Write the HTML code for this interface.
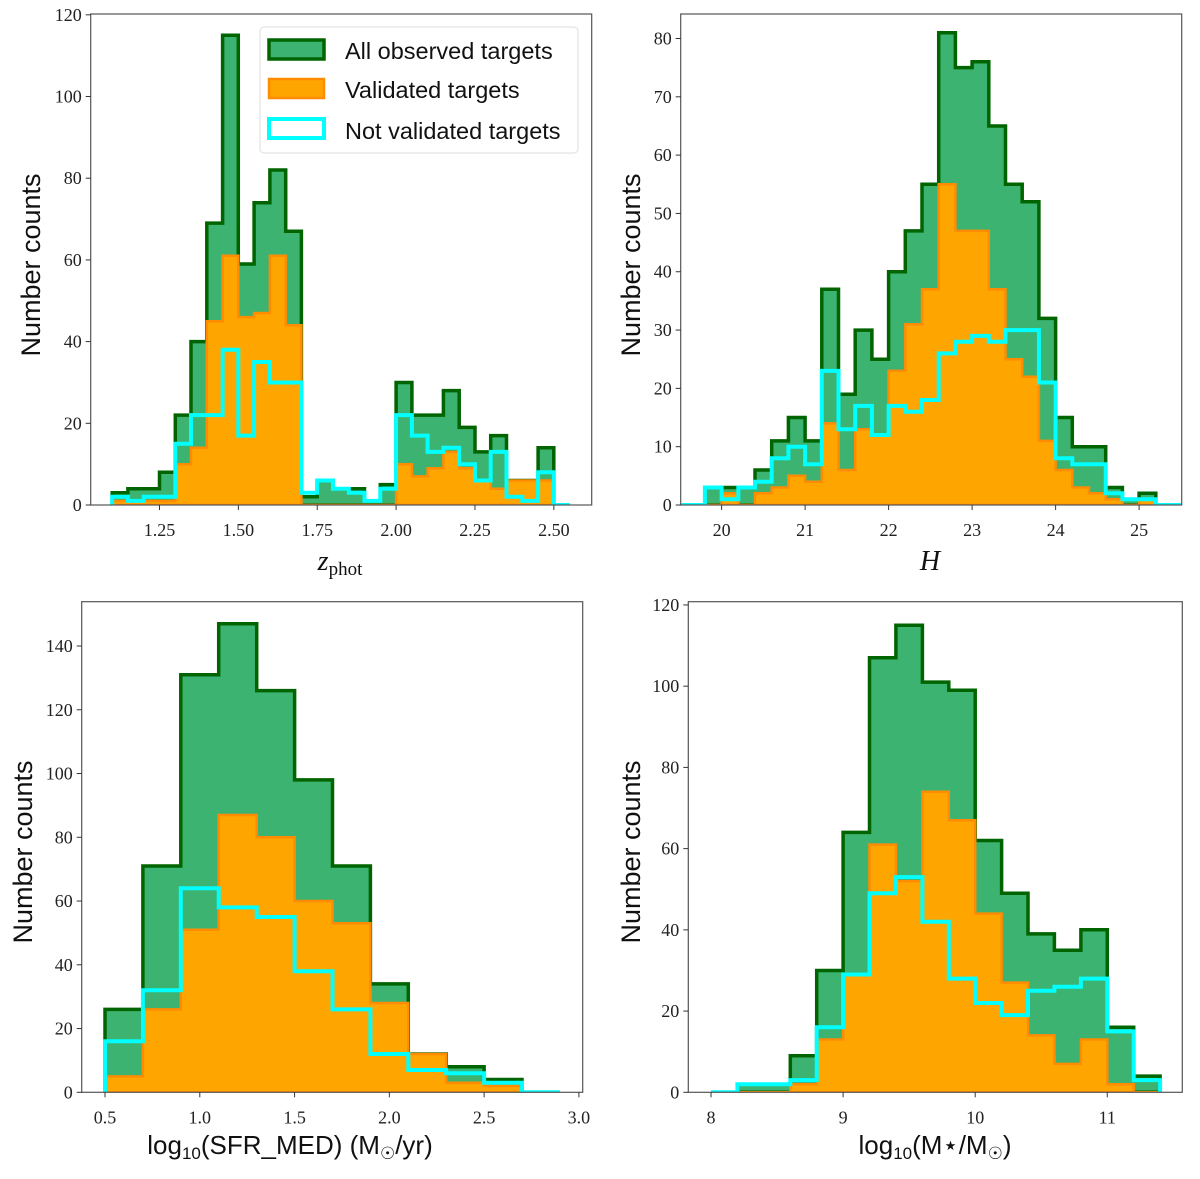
<!DOCTYPE html>
<html><head><meta charset="utf-8">
<style>
body{margin:0;background:#fff;width:1200px;height:1174px;overflow:hidden}
svg text{font-family:"Liberation Serif",serif}
.lab{font-family:"Liberation Sans",sans-serif}
</style></head>
<body>
<svg id="fig" width="1200" height="1174" viewBox="0 0 1200 1174" xmlns="http://www.w3.org/2000/svg"></svg>
<script>
// ---- Panel 1: z_phot ----
const zStart = 1.10, zWidth = 0.05;
const zAll  = [3,4,4,8,22,40,69,115,59,74,82,67,2,6,4,4,1,5,30,22,22,28,19,13,17,6,6,14,0];
const zVal  = [1,1,1,1,10,14,45,61,46,47,61,44,0,0,0,0,0,0,10,7,9,13,9,6,4,6,6,6,0];
const zNot  = [2,1,2,2,15,22,22,38,17,35,30,30,3,6,4,3,1,4,22,17,13,14,10,6,13,2,1,8,0];
const zXTicks = [1.25,1.5,1.75,2.0,2.25,2.5];
const zXLabels = ["1.25","1.50","1.75","2.00","2.25","2.50"];
const zYTicks = [0,20,40,60,80,100,120];
// ---- Panel 2: H ----
const hStart = 19.8, hWidth = 0.2;
const hAll = [3,3,3,6,11,15,11,37,19,30,25,40,47,55,81,75,76,65,55,52,32,15,10,10,3,1,2];
const hVal = [0,2,0,2,3,5,4,14,6,13,12,23,31,37,55,47,47,37,25,22,11,6,3,2,1,0,1];
const hNot = [3,1,3,4,8,10,7,23,13,17,12,17,16,18,26,28,29,28,30,30,21,8,7,7,2,1,1];
const hXTicks = [20,21,22,23,24,25];
const hYTicks = [0,10,20,30,40,50,60,70,80];
// ---- Panel 3: SFR ----
const sStart = 0.5, sWidth = 0.2;
const sAll = [26,71,131,147,126,98,71,34,12,8,4,0];
const sVal = [5,26,51,87,80,60,53,28,12,3,2,0];
const sNot = [16,32,64,58,55,38,26,12,7,6,3,0];
const sXTicks = [0.5,1.0,1.5,2.0,2.5,3.0];
const sXLabels = ["0.5","1.0","1.5","2.0","2.5","3.0"];
const sYTicks = [0,20,40,60,80,100,120,140];
// ---- Panel 4: Mass ----
const mStart = 8.0, mWidth = 0.2;
const mAll = [0,2,2,9,30,64,107,115,101,99,62,49,39,35,40,16,4];
const mVal = [0,0,0,2,13,29,61,52,74,67,44,27,14,7,13,2,0];
const mNot = [0,2,2,3,16,29,49,53,42,28,22,19,25,26,28,15,3];
const mXTicks = [8,9,10,11];
const mYTicks = [0,20,40,60,80,100,120];

const NS="http://www.w3.org/2000/svg";
const fig=document.getElementById('fig');
function mk(tag,attrs,parent){const e=document.createElementNS(NS,tag);for(const k in attrs)e.setAttribute(k,attrs[k]);(parent||fig).appendChild(e);return e;}

function panel(name,box,xlim,ylim,start,width,all,val,not,xt,xl,yt,cyanExt){
  const g=mk('g',{});
  
  
  const X=v=>box.x0+(v-xlim[0])/(xlim[1]-xlim[0])*(box.x1-box.x0);
  const Y=v=>box.y1-(v-ylim[0])/(ylim[1]-ylim[0])*(box.y1-box.y0);
  function stepPts(arr,ext){
    let p=[[X(start),Y(0)]];
    arr.forEach((v,i)=>{p.push([X(start+i*width),Y(v)]);p.push([X(start+(i+1)*width),Y(v)]);});
    p.push([X(start+arr.length*width),Y(0)]);
    if(ext){p.unshift([X(xlim[0]),Y(0)]);p.push([X(xlim[1]),Y(0)]);}
    return p.map(q=>q[0].toFixed(1)+','+q[1].toFixed(1)).join(' ');
  }
  const clip='clip-'+name;
  const cp=mk('clipPath',{id:clip},g);
  mk('rect',{x:box.x0,y:box.y0,width:box.x1-box.x0,height:box.y1-box.y0},cp);
  const pg=mk('g',{'clip-path':'url(#'+clip+')'},g);
  const a=mk('polygon',{points:stepPts(all),fill:'#3cb371',stroke:'#006400','stroke-width':3.5,'stroke-linejoin':'miter'},pg);
  
  
  const b=mk('polygon',{points:stepPts(val),fill:'#ffa500',stroke:'#ff8c00','stroke-width':2.5},pg);
  
  
  const c=mk('polyline',{points:stepPts(not,cyanExt),fill:'none',stroke:'#00ffff','stroke-width':4},pg);
  
  
  mk('rect',{x:box.x0,y:box.y0,width:box.x1-box.x0,height:box.y1-box.y0,fill:'none',stroke:'#555','stroke-width':1.2},g);
  xt.forEach((t,i)=>{const x=X(t);mk('line',{x1:x,x2:x,y1:box.y1,y2:box.y1+5,stroke:'#333','stroke-width':1},g);
    const tx=mk('text',{x:x,y:box.y1+31,'text-anchor':'middle','font-size':18,fill:'#222'},g);tx.textContent=xl?xl[i]:String(t);
    
    });
  yt.forEach(t=>{const y=Y(t);mk('line',{x1:box.x0-5,x2:box.x0,y1:y,y2:y,stroke:'#333','stroke-width':1},g);
    const tx=mk('text',{x:box.x0-9,y:y+6,'text-anchor':'end','font-size':18,fill:'#222'},g);tx.textContent=String(t);
    
    });
  return g;
}
panel('panel-zphot',{x0:90.7,x1:591.7,y0:14,y1:505},[1.032,2.62],[0,120.2],zStart,zWidth,zAll,zVal,zNot,zXTicks,zXLabels,zYTicks,false);
panel('panel-h',{x0:680.7,x1:1181.7,y0:14,y1:505},[19.51,25.51],[0,84.2],hStart,hWidth,hAll,hVal,hNot,hXTicks,null,hYTicks,true);
panel('panel-sfr',{x0:81.7,x1:582.7,y0:601.7,y1:1092.3},[0.377,3.02],[0,153.9],sStart,sWidth,sAll,sVal,sNot,sXTicks,sXLabels,sYTicks,false);
panel('panel-mass',{x0:688.3,x1:1182.3,y0:601.7,y1:1092.3},[7.828,11.568],[0,120.8],mStart,mWidth,mAll,mVal,mNot,mXTicks,null,mYTicks,false);
</script>
<svg style="position:absolute;left:0;top:0" width="1200" height="1174" xmlns="http://www.w3.org/2000/svg">
  <g>
    <rect x="260" y="27" width="318" height="126" rx="4" fill="#fff" fill-opacity="0.85" stroke="#ddd" stroke-width="1"/>
    <rect x="269" y="40" width="55" height="19" fill="#3cb371" stroke="#006400" stroke-width="3.5"/>
    <text class="lab" x="345" y="59" font-size="23.5" fill="#111">All observed targets</text>
    <rect x="269" y="79" width="55" height="19" fill="#ffa500" stroke="#ff8c00" stroke-width="2.5"/>
    <text class="lab" x="345" y="98" font-size="23.5" fill="#111">Validated targets</text>
    <rect x="269" y="119" width="55" height="19" fill="#fff" stroke="#00ffff" stroke-width="4"/>
    <text class="lab" x="345" y="139" font-size="23.5" fill="#111">Not validated targets</text>
  </g>
  <text class="lab" font-size="27" text-anchor="middle" transform="translate(40,265) rotate(-90)" fill="#111">Number counts</text>
  <text class="lab" font-size="27" text-anchor="middle" transform="translate(640,265) rotate(-90)" fill="#111">Number counts</text>
  <text class="lab" font-size="27" text-anchor="middle" transform="translate(32,852) rotate(-90)" fill="#111">Number counts</text>
  <text class="lab" font-size="27" text-anchor="middle" transform="translate(640,852) rotate(-90)" fill="#111">Number counts</text>
  <text x="340" y="570" font-size="28" text-anchor="middle" fill="#111" font-family="Liberation Serif,serif"><tspan font-style="italic">z</tspan><tspan font-size="19" dy="5">phot</tspan></text>
  <text x="930" y="570" font-size="28" text-anchor="middle" font-style="italic" fill="#111" font-family="Liberation Serif,serif">H</text>
  <text class="lab" x="290" y="1154" font-size="26" text-anchor="middle" fill="#111">log<tspan font-size="17" dy="5">10</tspan><tspan dy="-5">(SFR_MED) (M</tspan><tspan font-size="17" dy="5">☉</tspan><tspan dy="-5">/yr)</tspan></text>
  <text class="lab" x="935" y="1154" font-size="26" text-anchor="middle" fill="#111">log<tspan font-size="17" dy="5">10</tspan><tspan dy="-5">(M⋆/M</tspan><tspan font-size="17" dy="5">☉</tspan><tspan dy="-5">)</tspan></text>
</svg>
</body></html>
